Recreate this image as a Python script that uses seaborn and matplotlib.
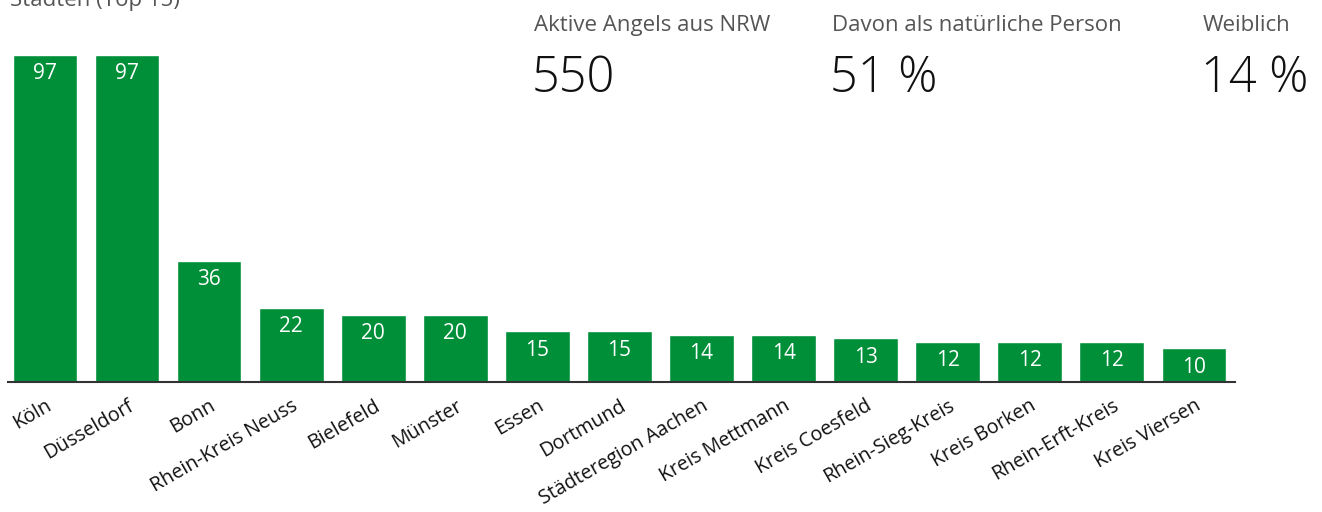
import matplotlib
matplotlib.use("Agg")
import matplotlib.pyplot as plt
import seaborn as sns
import pandas as pd

# Daten
staedte = ["Köln", "Düsseldorf", "Bonn", "Rhein-Kreis Neuss", "Bielefeld",
           "Münster", "Essen", "Dortmund", "Städteregion Aachen", "Kreis Mettmann",
           "Kreis Coesfeld", "Rhein-Sieg-Kreis", "Kreis Borken", "Rhein-Erft-Kreis",
           "Kreis Viersen"]
angels = [97, 97, 36, 22, 20, 20, 15, 15, 14, 14, 13, 12, 12, 12, 10]

kpi_labels = ["Aktive Angels aus NRW", "Davon als natürliche Person", "Weiblich"]
kpi_werte = ["550", "51 %", "14 %"]

df = pd.DataFrame({"stadt": staedte, "angels": angels})

sns.set_style("white")
plt.rcParams["font.family"] = ["Open Sans", "DejaVu Sans"]

W, H = 1322, 512
fig = plt.figure(figsize=(W / 100, H / 100), dpi=100)
ax = fig.add_axes([8 / W, 1 - 382 / H, (1235 - 8) / W, 337 / H])

gruen = "#008F39"
sns.barplot(data=df, x="stadt", y="angels", color=gruen, width=0.79,
            saturation=1, ax=ax)

ax.set_xlim(-0.45, 14.5)
ax.set_ylim(0, 100)

# Werte in den Balken
for i, v in enumerate(angels):
    ax.annotate(str(v), (i, v), xytext=(0, -6), textcoords="offset points",
                ha="center", va="top", color="white", fontsize=15)

for s in ["top", "right", "left"]:
    ax.spines[s].set_visible(False)
ax.spines["bottom"].set_color("#333333")
ax.spines["bottom"].set_linewidth(1.5)
ax.set_yticks([])
ax.set_xlabel("")
ax.set_ylabel("")
ax.tick_params(axis="x", length=0, pad=10)
plt.setp(ax.get_xticklabels(), rotation=30, ha="right", rotation_mode="anchor",
         fontsize=14.2, color="#111111")

# Titel (oben abgeschnitten)
fig.text(10 / W, 1 - 6 / H, "Städten (Top 15)", fontsize=16, color="#555555",
         ha="left", va="baseline")

# Kennzahlen
kpi_x = [534, 832, 1203]
for x, lab, wert in zip(kpi_x, kpi_labels, kpi_werte):
    fig.text(x / W, 1 - 31 / H, lab, fontsize=16, color="#555555",
             ha="left", va="baseline")
    fig.text((x - 2) / W, 1 - 92 / H, wert, fontsize=35, color="#111111",
             ha="left", va="baseline", fontweight="light")

fig.savefig("out.png", dpi=100)
